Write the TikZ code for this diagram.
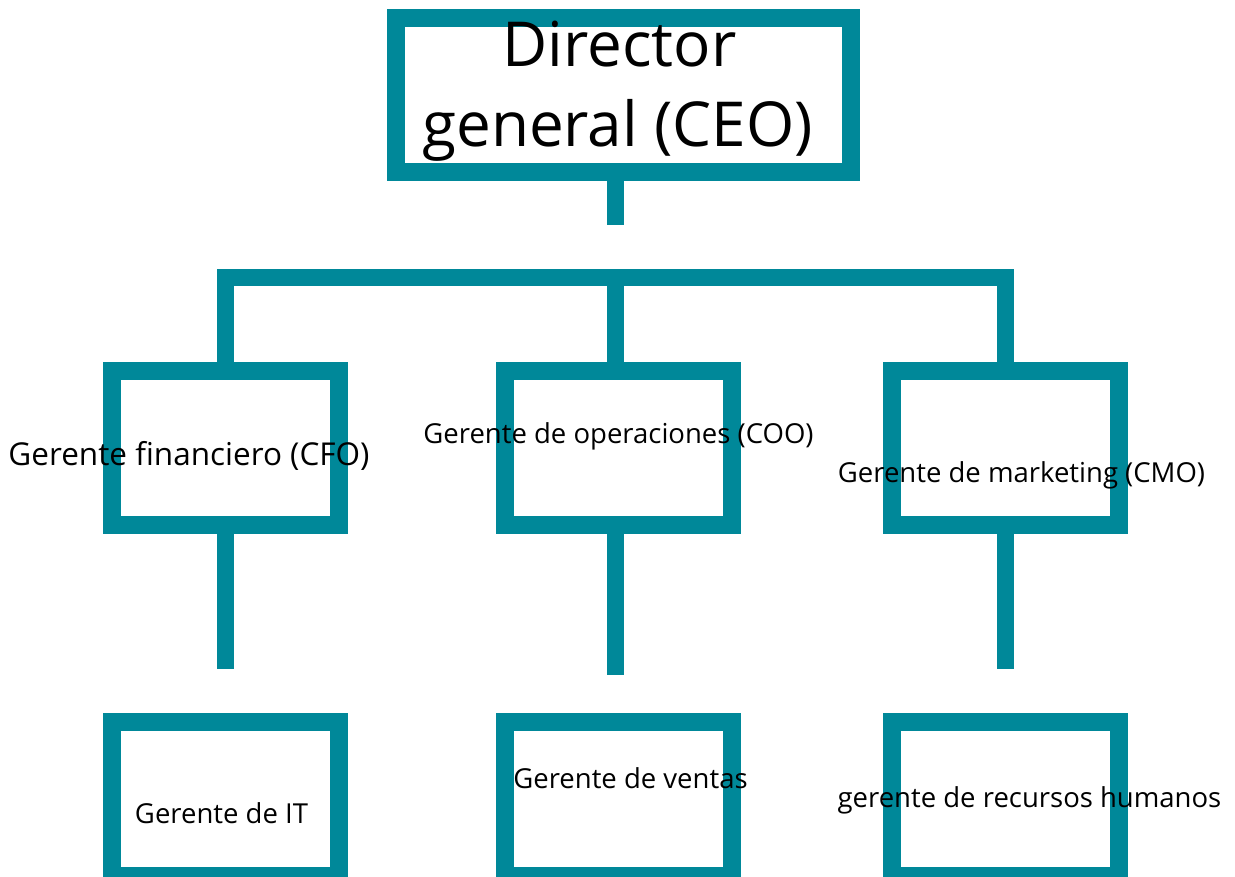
\documentclass[tikz,border=0pt]{standalone}
\usepackage{fontspec}
\setmainfont{Open Sans}
\definecolor{teal}{RGB}{0,136,153}
\tikzset{
  orgbox/.style={draw=teal, line width=18pt, fill=white, inner sep=0pt, minimum width=227pt, minimum height=154pt},
  ceobox/.style={draw=teal, line width=18pt, fill=white, inner sep=0pt, minimum width=454.5pt, minimum height=154pt},
  link/.style={draw=teal, line width=17pt, line cap=butt, line join=miter},
  lbl/.style={anchor=base, inner sep=0pt, text=black, font=\fontsize{27.5}{33}\selectfont},
  big/.style={anchor=base, inner sep=0pt, text=black, font=\fontsize{62}{74}\selectfont}
}
\begin{document}
\begin{tikzpicture}[x=1pt, y=-1pt]
\clip (0,0) rectangle (1235,877);
\fill[white] (0,0) rectangle (1235,877);
% boxes
\node[ceobox] (ceo) at (623.25,95) {};
\node[orgbox] (cfo) at (225.5,448) {};
\node[orgbox] (coo) at (618.5,448) {};
\node[orgbox] (cmo) at (1005.5,448) {};
\node[orgbox] (it) at (225.5,799) {};
\node[orgbox] (ven) at (618.5,799) {};
\node[orgbox] (rh) at (1005.5,799) {};
% connector endpoints
\coordinate (stemend) at (615.5,225);
\coordinate (barl) at (225,277.5);
\coordinate (barm) at (615.5,277.5);
\coordinate (barr) at (1005.5,277.5);
\coordinate (cfoend) at (225,669);
\coordinate (cooend) at (615.5,675);
\coordinate (cmoend) at (1005.5,669);
% connectors
\draw[link] (ceo.south -| stemend) -- (stemend);
\draw[link] (cfo.north -| barl) -- (barl) -- (barr) -- (cmo.north -| barr);
\draw[link] (barm) -- (coo.north -| barm);
\draw[link] (cfo.south -| cfoend) -- (cfoend);
\draw[link] (coo.south -| cooend) -- (cooend);
\draw[link] (cmo.south -| cmoend) -- (cmoend);
% labels
\node[big] (t1) at (619.5,67) {Director};
\node[big] (t2) at (617.5,147) {general (CEO)};
\node[lbl, font=\fontsize{31.5}{38}\selectfont] (lcfo) at (189,465) {Gerente financiero (CFO)};
\node[lbl] (lcoo) at (618.5,443) {Gerente de operaciones (COO)};
\node[lbl] (lcmo) at (1021.5,482) {Gerente de marketing (CMO)};
\node[lbl] (lit) at (221.5,823) {Gerente de IT};
\node[lbl] (lven) at (630.5,788) {Gerente de ventas};
\node[lbl] (lrh) at (1029.5,807) {gerente de recursos humanos};
\end{tikzpicture}
\end{document}
